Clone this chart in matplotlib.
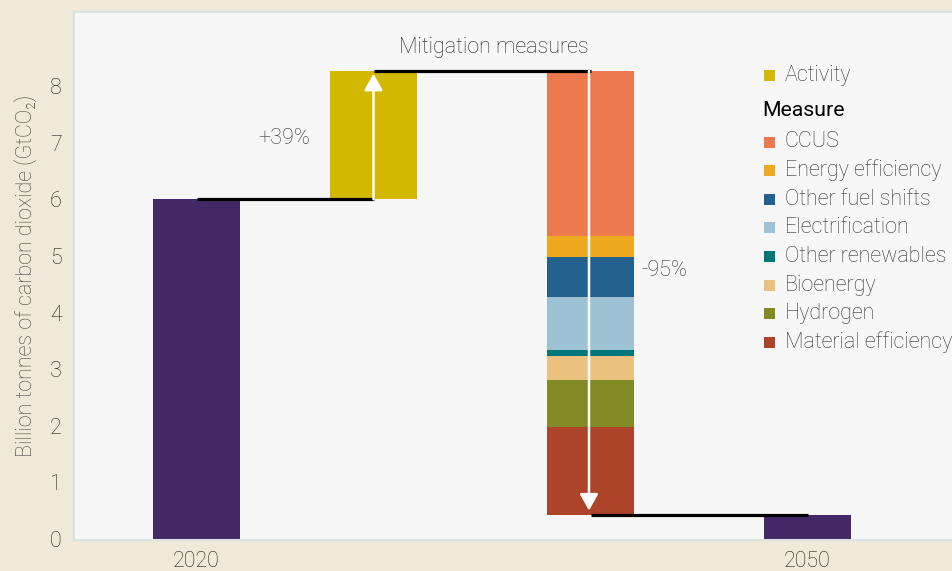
import matplotlib
matplotlib.use("Agg")
import matplotlib.pyplot as plt
from matplotlib.patches import Rectangle

plt.rcParams['font.family'] = ['Roboto', 'DejaVu Sans']

# --- data (GtCO2) ---
emissions_2020 = 6.0
activity_growth = 2.27
measure_names = ["CCUS", "Energy efficiency", "Other fuel shifts", "Electrification",
                 "Other renewables", "Bioenergy", "Hydrogen", "Material efficiency"]
measure_values = [2.92, 0.37, 0.70, 0.94, 0.11, 0.42, 0.84, 1.55]
emissions_2050 = 0.42
tick_labels = ["2020", "2050"]
growth_label = "+39%"
reduction_label = "-95%"

# --- styling ---
PURPLE = "#432867"
ACTIVITY_COLOR = "#d2b800"
measure_colors = ["#ec7a4e", "#eeaa1f", "#23628f", "#9dc2d3",
                  "#00787a", "#ebc180", "#818a25", "#ad4328"]
FIG_BG = "#efe9d9"
PANEL_BG = "#f7f7f7"
TEXT_GRAY = "#333333"
TEXT_DARK = "#222222"

W, H = 952, 571
fig = plt.figure(figsize=(W / 100, H / 100), dpi=100, facecolor=FIG_BG)
ax_left, ax_right, ax_top, ax_bot = 74, 952, 12, 540
ax = fig.add_axes([ax_left / W, 1 - ax_bot / H, (ax_right - ax_left) / W, (ax_bot - ax_top) / H])
ax.set_facecolor(PANEL_BG)
for s in ax.spines.values():
    s.set_color("#dbe2e2")
    s.set_linewidth(1.5)
ax.spines['right'].set_visible(False)

# horizontal layout in panel pixels
x_pos = [122.5, 299.5, 516.5, 733.5]
bar_w = 87
ax.set_xlim(0, ax_right - ax_left)
ax.set_ylim(-0.02, 9.31)

# bars
ax.bar(x_pos[0], emissions_2020, width=bar_w, color=PURPLE)
ax.bar(x_pos[1], activity_growth, bottom=emissions_2020, width=bar_w, color=ACTIVITY_COLOR)
peak = emissions_2020 + activity_growth
top = peak
for val, col in zip(measure_values, measure_colors):
    ax.bar(x_pos[2], val, bottom=top - val, width=bar_w, color=col)
    top -= val
ax.bar(x_pos[3], emissions_2050, width=bar_w, color=PURPLE)

# connectors
ax.plot([x_pos[0], x_pos[1]], [emissions_2020, emissions_2020], color="black", lw=2.3,
        solid_capstyle="butt", zorder=4)
ax.plot([x_pos[1], x_pos[2]], [peak, peak], color="black", lw=2.3,
        solid_capstyle="butt", zorder=4)
ax.plot([x_pos[2], x_pos[3]], [emissions_2050, emissions_2050], color="black", lw=2.3,
        solid_capstyle="butt", zorder=4)

# arrows
arrow_kw = dict(arrowstyle="-|>,head_length=0.5,head_width=0.28", color="white", lw=1.8,
                mutation_scale=20, shrinkA=0, shrinkB=0)
ax.annotate("", xy=(x_pos[1], peak - 0.05), xytext=(x_pos[1], emissions_2020),
            arrowprops=arrow_kw, zorder=5)
ax.annotate("", xy=(x_pos[2] - 1.5, emissions_2050 + 0.08), xytext=(x_pos[2] - 1.5, peak),
            arrowprops=arrow_kw, zorder=5)

# annotations
FS = 15.5
ax.text(210, 7.08, growth_label, ha="center", va="center", fontsize=FS,
        fontweight="light", color=TEXT_GRAY)
ax.text(567, 4.75, reduction_label, ha="left", va="center", fontsize=FS,
        fontweight="light", color=TEXT_GRAY)
ax.text(420, 8.69, "Mitigation measures", ha="center", va="center", fontsize=FS,
        fontweight="light", color=TEXT_DARK)

# axes ticks
ax.set_xticks([x_pos[0], x_pos[3]])
ax.set_xticklabels(tick_labels)
ax.set_yticks(range(0, 9))
ax.tick_params(axis="both", length=0, labelsize=FS, labelcolor=TEXT_DARK)
ax.tick_params(axis="x", pad=8)
ax.tick_params(axis="y", pad=9)
for lbl in ax.get_xticklabels() + ax.get_yticklabels():
    lbl.set_fontweight("light")
ax.set_ylabel("Billion tonnes of carbon dioxide (GtCO\u2082)", fontsize=15.5,
              fontweight="light", color="#444444", labelpad=9)

# legend drawn in figure pixel space
def fig_xy(px, py):
    return px / W, 1 - py / H

def legend_row(py, color, label):
    x0, y0 = fig_xy(764, py + 5.5)
    fig.patches.append(Rectangle((x0, y0), 11 / W, 11 / H, transform=fig.transFigure,
                                 facecolor=color, edgecolor="none", zorder=10))
    tx, ty = fig_xy(785, py)
    fig.text(tx, ty, label, ha="left", va="center", fontsize=FS, fontweight="light",
             color=TEXT_GRAY)

legend_row(75.5, ACTIVITY_COLOR, "Activity")
hx, hy = fig_xy(762, 111)
fig.text(hx, hy, "Measure", ha="left", va="center", fontsize=15.3, color="black")
row_y = 142
for name, col in zip(measure_names, measure_colors):
    legend_row(row_y, col, name)
    row_y += 28.6

fig.savefig("out.png", dpi=100, facecolor=FIG_BG)
